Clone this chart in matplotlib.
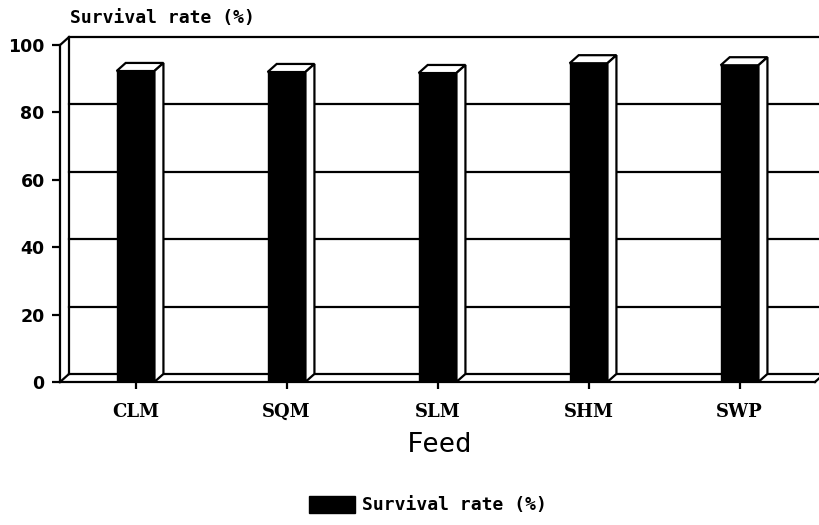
import matplotlib
matplotlib.use('Agg')
from matplotlib import pyplot as plt
from matplotlib.patches import Polygon

feeds = ['CLM', 'SQM', 'SLM', 'SHM', 'SWP']
survival = [92.3, 92.0, 91.7, 94.6, 94.0]
yticks = [0, 20, 40, 60, 80, 100]

# 3d depth offset (category units, value units)
dx, dy = 0.06, 2.4
width = 0.25

fig = plt.figure(figsize=(8.19, 5.25), dpi=100)
ax = fig.add_axes([60 / 819, (525 - 382) / 525, 759 / 819, 345 / 525])
xs = list(range(len(feeds)))
ax.set_xlim(-0.5, -0.5 + 759 / 151)
ax.set_ylim(0, 100 + dy)

lw = 1.6
right = ax.get_xlim()[1]

# back wall and floor
for v in yticks:
    ax.plot([-0.5 + dx, right], [v + dy, v + dy], color='black', lw=lw, zorder=1, clip_on=False)
ax.plot([-0.5 + dx, -0.5 + dx], [dy, 100 + dy], color='black', lw=lw, zorder=1)
ax.plot([-0.5, -0.5 + dx], [100, 100 + dy], color='black', lw=lw, zorder=1, clip_on=False)
ax.plot([-0.5, -0.5 + dx], [0, dy], color='black', lw=lw, zorder=1, clip_on=False)
ax.plot([4.5, 4.5 + dx], [0, dy], color='black', lw=lw, zorder=1, clip_on=False)

# bars: front faces through the library, top and side faces as polygons
bars = ax.bar(xs, survival, width=width, color='black', edgecolor='black', lw=1, zorder=3,
              label='Survival rate (%)')
for x, v in zip(xs, survival):
    x0, x1 = x - width / 2, x + width / 2
    top = Polygon([(x0, v), (x1, v), (x1 + dx, v + dy), (x0 + dx, v + dy)], closed=True,
                  facecolor='white', edgecolor='black', lw=lw, zorder=2.5)
    side = Polygon([(x1, 0), (x1 + dx, dy), (x1 + dx, v + dy), (x1, v)], closed=True,
                   facecolor='white', edgecolor='black', lw=lw, zorder=2.5)
    ax.add_patch(top)
    ax.add_patch(side)

for s in ['top', 'right']:
    ax.spines[s].set_visible(False)
ax.spines['left'].set_bounds(0, 100)
ax.spines['bottom'].set_bounds(-0.5, 4.5)
ax.spines['left'].set_linewidth(lw)
ax.spines['bottom'].set_linewidth(lw)

ax.set_yticks(yticks)
ax.set_yticklabels([str(v) for v in yticks], fontsize=12.5, fontweight='bold', family='DejaVu Sans')
ax.tick_params(axis='y', direction='out', length=6, width=lw, pad=5)
ax.set_xticks(xs)
ax.set_xticklabels(feeds, fontsize=13, fontweight='bold', family='DejaVu Serif')
ax.tick_params(axis='x', direction='out', length=5, width=lw, pad=10)

fig.text(70 / 819, 1 - 18 / 525, 'Survival rate (%)', ha='left', va='center',
         fontsize=13, fontweight='bold', family='DejaVu Sans Mono')
fig.text(440 / 819, 1 - 445 / 525, 'Feed', ha='center', va='center',
         fontsize=19.5, family='DejaVu Sans Mono')

fig.legend(handles=[bars], labels=['Survival rate (%)'], loc='center',
           bbox_to_anchor=(428 / 819, 1 - 505 / 525), frameon=False,
           prop={'family': 'DejaVu Sans Mono', 'weight': 'bold', 'size': 13},
           handlelength=2.5, handleheight=1.1, handletextpad=0.4)

fig.savefig('out.png', dpi=100)
